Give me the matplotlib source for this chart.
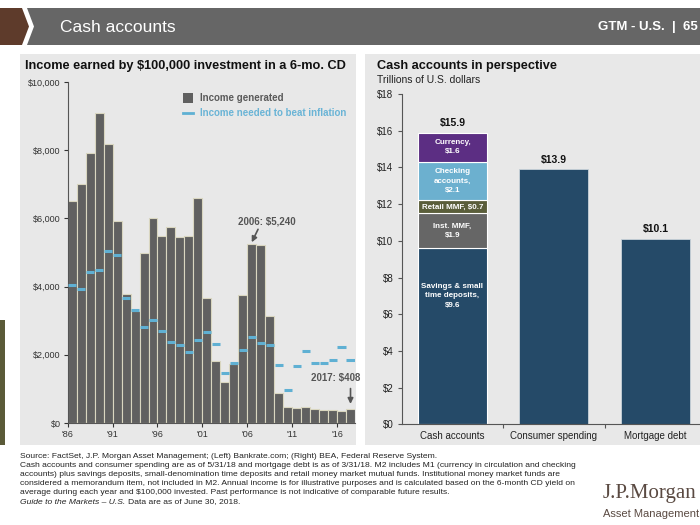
import matplotlib.pyplot as plt
from matplotlib.patches import Polygon, Rectangle
import numpy as np

plt.rcParams['font.family'] = ['Liberation Sans', 'DejaVu Sans']

# left chart: income from $100k in a 6-mo CD
years = list(range(1986, 2018))
income = [6510, 7020, 7920, 9090, 8180, 5910, 3770, 3280, 4980, 6000,
          5480, 5750, 5450, 5470, 6600, 3680, 1830, 1190, 1740, 3740,
          5240, 5220, 3150, 880, 460, 430, 460, 400, 380, 380, 340, 408]
inflation = [4050, 3930, 4440, 4490, 5040, 4920, 3660, 3310, 2820, 3020,
             2700, 2390, 2290, 2070, 2440, 2670, 2330, 1470, 1770, 2150,
             2510, 2340, 2300, 1700, 960, 1660, 2120, 1770, 1750, 1850, 2220, 1860]
year_ticks = [1986, 1991, 1996, 2001, 2006, 2011, 2016]

# right chart: cash accounts in perspective (trillions)
categories = ['Cash accounts', 'Consumer spending', 'Mortgage debt']
seg_names = ['Savings & small\ntime deposits,\n$9.6', 'Inst. MMF,\n$1.9', 'Retail MMF, $0.7',
             'Checking\naccounts,\n$2.1', 'Currency,\n$1.6']
seg_values = [9.6, 1.9, 0.7, 2.1, 1.6]
other_values = [13.9, 10.1]
totals = ['$15.9', '$13.9', '$10.1']

W, H = 700, 525
fig = plt.figure(figsize=(7, 5.25), dpi=100)
fig.patch.set_facecolor('white')

def px(x, y):
    return (x / W, 1 - y / H)

def poly(pts, color):
    fig.add_artist(Polygon([px(*p) for p in pts], closed=True, facecolor=color,
                           edgecolor='none', transform=fig.transFigure))

# header bar
poly([(0, 8), (22, 8), (29, 26.5), (22, 45), (0, 45)], '#5e3b2b')
poly([(27, 8), (700, 8), (700, 45), (27, 45), (34, 26.5)], '#666666')
fig.text(*px(60, 27), 'Cash accounts', color='white', fontsize=12.5, va='center')
fig.text(*px(698, 27), 'GTM - U.S.  |  65', color='white', fontsize=9.5, va='center',
         ha='right', weight='bold')

# panels
fig.add_artist(Rectangle(px(20, 445), 336 / W, 391 / H, facecolor='#e8e8e8',
                         edgecolor='none', transform=fig.transFigure, zorder=0))
fig.add_artist(Rectangle(px(365, 445), 340 / W, 391 / H, facecolor='#e8e8e8',
                         edgecolor='none', transform=fig.transFigure, zorder=0))
# olive side tab
fig.add_artist(Rectangle(px(0, 445), 5 / W, 125 / H, facecolor='#5a5a38',
                         edgecolor='none', transform=fig.transFigure))

# ---- left chart
ax1 = fig.add_axes([67.7 / W, 1 - 423 / H, 287.3 / W, 341 / H])
ax1.set_facecolor('none')
x = np.arange(len(years))
ax1.bar(x, income, width=1.0, color='#606060', edgecolor='#d9d6c0', linewidth=0.8, zorder=2)
ax1.hlines(inflation, x - 0.45, x + 0.45, color='#5fb0d3', linewidth=2.2, zorder=3)
ax1.set_xlim(-0.5, len(years) - 0.5)
ax1.set_ylim(0, 10000)
ax1.set_yticks(np.arange(0, 10001, 2000))
ax1.set_yticklabels(['$' + format(v, ',') for v in range(0, 10001, 2000)])
ax1.set_xticks([years.index(y) - 0.5 for y in year_ticks])
ax1.set_xticklabels(["'" + str(y)[2:] for y in year_ticks])
for s in ['top', 'right']:
    ax1.spines[s].set_visible(False)
for s in ['left', 'bottom']:
    ax1.spines[s].set_color('#555555')
    ax1.spines[s].set_linewidth(0.8)
ax1.tick_params(labelsize=6.5, colors='#333333', length=3, width=0.8, pad=2)

# legend
fig.add_artist(Rectangle(px(183, 103), 10 / W, 10 / H, facecolor='#606060',
                         edgecolor='none', transform=fig.transFigure))
fig.text(*px(200, 98), 'Income generated', color='#5a5a5a', fontsize=7, weight='bold', va='center')
fig.add_artist(plt.Line2D([183 / W, 193 / W], [1 - 113 / H] * 2, color='#5fb0d3', lw=2,
                          transform=fig.transFigure))
fig.text(*px(200, 113), 'Income needed to beat inflation', color='#6ab4d6', fontsize=7,
         weight='bold', va='center')

# callouts
ax1.text(21.7, 5900, '2006: $5,240', fontsize=7, weight='bold', color='#555555',
         ha='center', va='center')
ax1.annotate('', xy=(20.0, 5300), xytext=(20.7, 5680),
             arrowprops=dict(arrowstyle='-|>', color='#555555', lw=1.2, mutation_scale=8,
                             shrinkA=0, shrinkB=0))
ax1.text(29.3, 1320, '2017: $408', fontsize=7, weight='bold', color='#555555',
         ha='center', va='center')
ax1.annotate('', xy=(31, 560), xytext=(31, 1010),
             arrowprops=dict(arrowstyle='-|>', color='#555555', lw=1.2, mutation_scale=8,
                             shrinkA=0, shrinkB=0))

fig.text(*px(25, 66), 'Income earned by $100,000 investment in a 6-mo. CD', fontsize=9.2,
         weight='bold', va='center', color='#111111')

# ---- right chart
ax2 = fig.add_axes([401.7 / W, 1 - 424.3 / H, 304.5 / W, 330.3 / H])
ax2.set_facecolor('none')
seg_colors = ['#254a68', '#666666', '#5a5e3a', '#6cb0cf', '#5c2e83']
bottom = 0
for v, c, name in zip(seg_values, seg_colors, seg_names):
    ax2.bar(0, v, bottom=bottom, width=0.68, color=c, edgecolor='white', linewidth=0.8, zorder=2)
    ty = bottom + v / 2
    if name.startswith('Savings'):
        ty = 7.0
    ax2.text(0, ty, name, ha='center', va='center', color='white', fontsize=5.8,
             weight='bold', linespacing=1.45, zorder=3)
    bottom += v
ax2.bar([1, 2], other_values, width=0.68, color='#254a68', edgecolor='#c9d3da',
        linewidth=0.6, zorder=2)
for i, (v, t) in enumerate(zip([bottom] + other_values, totals)):
    ax2.text(i, v + 0.25, t, ha='center', va='bottom', fontsize=7.5, weight='bold', color='#111111')
ax2.set_xlim(-0.5, 2.5)
ax2.set_ylim(0, 18)
ax2.set_yticks(np.arange(0, 19, 2))
ax2.set_yticklabels(['$' + str(v) for v in range(0, 19, 2)])
ax2.set_xticks([0, 1, 2])
ax2.set_xticklabels(categories)
ax2.set_xticks([0.5, 1.5], minor=True)
ax2.tick_params(axis='x', which='major', length=0, pad=5)
ax2.tick_params(axis='x', which='minor', length=3, width=0.8, color='#555555')
for s in ['top', 'right']:
    ax2.spines[s].set_visible(False)
for s in ['left', 'bottom']:
    ax2.spines[s].set_color('#555555')
    ax2.spines[s].set_linewidth(0.8)
ax2.tick_params(axis='y', length=3, width=0.8, pad=3)
ax2.tick_params(labelsize=7, colors='#222222')
ax2.tick_params(axis='both', which='both', color='#555555')

fig.text(*px(377, 66), 'Cash accounts in perspective', fontsize=9.2, weight='bold',
         va='center', color='#111111')
fig.text(*px(377, 80), 'Trillions of U.S. dollars', fontsize=7.5, va='center', color='#222222')

# ---- footnotes
notes = [
    'Source: FactSet, J.P. Morgan Asset Management; (Left) Bankrate.com; (Right) BEA, Federal Reserve System.',
    'Cash accounts and consumer spending are as of 5/31/18 and mortgage debt is as of 3/31/18. M2 includes M1 (currency in circulation and checking',
    'accounts) plus savings deposits, small-denomination time deposits and retail money market mutual funds. Institutional money market funds are',
    'considered a memorandum item, not included in M2. Annual income is for illustrative purposes and is calculated based on the 6-month CD yield on',
    'average during each year and $100,000 invested. Past performance is not indicative of comparable future results.',
]
for i, line in enumerate(notes):
    fig.text(*px(20, 456 + i * 9.2), line, fontsize=6.1, va='center', color='#222222')
guide = fig.text(*px(20, 502), 'Guide to the Markets – U.S.', fontsize=6.1, va='center',
                 style='italic', color='#222222')
fig.canvas.draw()
gx = guide.get_window_extent().x1 + 3
fig.text(gx / W, 1 - 502 / H, 'Data are as of June 30, 2018.', fontsize=6.1, va='center',
         color='#222222')

# logo
fig.text(*px(603, 498), 'J.P.Morgan', fontsize=15, va='baseline', color='#5a4a42',
         family=['Liberation Serif', 'DejaVu Serif'])
fig.text(*px(603, 514), 'Asset Management', fontsize=8, va='center', color='#5a4a42')

fig.savefig('out.png', dpi=100)
